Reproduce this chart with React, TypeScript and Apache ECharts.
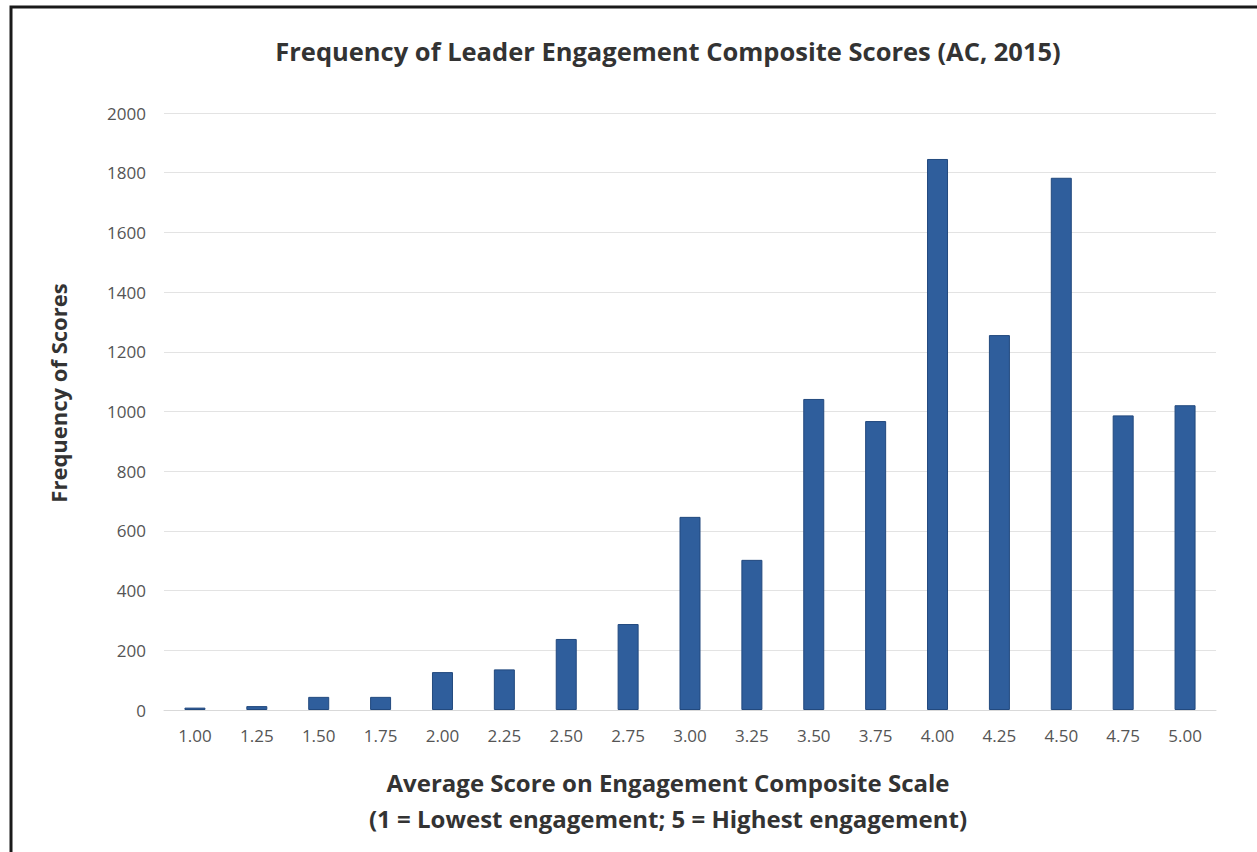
import React, { useEffect, useRef } from "react";
import * as echarts from "echarts";

const categories = ["1.00", "1.25", "1.50", "1.75", "2.00", "2.25", "2.50", "2.75", "3.00", "3.25", "3.50", "3.75", "4.00", "4.25", "4.50", "4.75", "5.00"];
const frequencies = [8, 13, 44, 44, 127, 136, 238, 288, 647, 503, 1042, 968, 1846, 1256, 1783, 987, 1021];
const yTicks = { min: 0, max: 2000, interval: 200 };
const title = "Frequency of Leader Engagement Composite Scores (AC, 2015)";
const yName = "Frequency of Scores";
const xNameLines = ["Average Score on Engagement Composite Scale", "(1 = Lowest engagement; 5 = Highest engagement)"];

export default function App() {
  const ref = useRef<HTMLDivElement>(null);
  useEffect(() => {
    document.body.style.margin = "0";
    const chart = echarts.init(ref.current!, null, { renderer: "svg" });
    const font = "'Open Sans', 'Noto Sans', sans-serif";
    const nameStyle = {
      fontFamily: font,
      fontSize: 24,
      fontWeight: "bold",
      fill: "#333333",
      textAlign: "center",
      textVerticalAlign: "middle",
    };
    chart.setOption({
      animation: false,
      backgroundColor: "#ffffff",
      grid: { left: 164, right: 41, top: 113, bottom: 142 },
      xAxis: {
        type: "category",
        data: categories,
        axisLine: { show: true, lineStyle: { color: "#d9d9d9", width: 1 } },
        axisTick: { show: false },
        axisLabel: { color: "#555555", fontSize: 17, fontFamily: font, margin: 17 },
      },
      yAxis: {
        type: "value",
        min: yTicks.min,
        max: yTicks.max,
        interval: yTicks.interval,
        axisLine: { show: false },
        axisTick: { show: false },
        splitLine: { lineStyle: { color: "#e3e3e3", width: 1 } },
        axisLabel: {
          color: "#555555",
          fontSize: 17,
          fontFamily: font,
          margin: 18,
          formatter: (v: number) => String(v),
        },
      },
      series: [
        {
          type: "bar",
          data: frequencies,
          barWidth: 21,
          itemStyle: { color: "#2f5e9c", borderColor: "#22497e", borderWidth: 1 },
        },
      ],
      graphic: [
        {
          type: "text",
          x: 668,
          y: 51,
          style: { ...nameStyle, text: title, fontSize: 25.5 },
        },
        {
          type: "text",
          x: 58,
          y: 393,
          rotation: Math.PI / 2,
          style: { ...nameStyle, text: yName, fontSize: 22 },
        },
        {
          type: "text",
          x: 668,
          y: 782,
          style: { ...nameStyle, text: xNameLines[0] },
        },
        {
          type: "text",
          x: 668,
          y: 818,
          style: { ...nameStyle, text: xNameLines[1] },
        },
        {
          type: "rect",
          shape: { x: 11, y: 7, width: 1300, height: 900 },
          style: { fill: "none", stroke: "#1a1a1a", lineWidth: 3 },
          silent: true,
        },
      ],
    });
    return () => chart.dispose();
  }, []);
  return <div ref={ref} style={{ width: 1257, height: 852 }} />;
}
